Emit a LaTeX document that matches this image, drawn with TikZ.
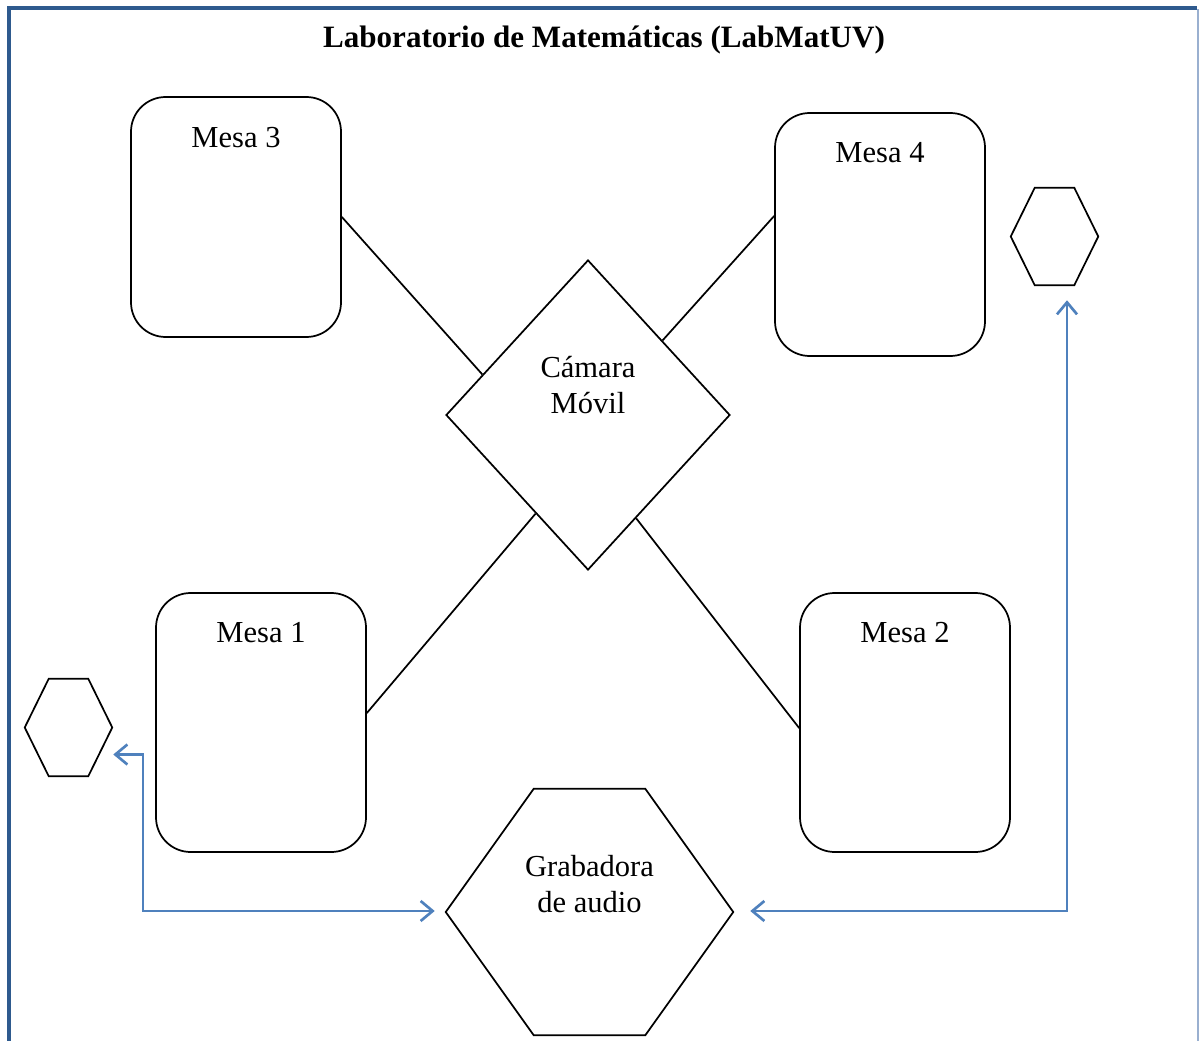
\documentclass[tikz,border=0pt]{standalone}
\usepackage{fontspec}
\setmainfont{Liberation Serif}
\usetikzlibrary{arrows.meta,shapes.geometric}
\definecolor{framecol}{HTML}{2E5A8E}
\definecolor{framelight}{HTML}{9AB0D0}
\definecolor{linkcol}{HTML}{4F81BD}
% outline of an elongated hexagon drawn on the border of a plain node
\newcommand{\hexoutline}[2]{%
  \draw[line width=1.3pt,line join=miter]
    (#1.west) -- ([xshift=#2]#1.north west) -- ([xshift=-#2]#1.north east)
    -- (#1.east) -- ([xshift=-#2]#1.south east) -- ([xshift=#2]#1.south west) -- cycle;}
\begin{document}
\begin{tikzpicture}[x=0.75pt,y=-0.75pt,
  txt/.style={font=\fontsize{22.9}{27}\selectfont,align=center,inner sep=0pt},
  mesa/.style={draw,line width=1.3pt,rounded corners=26pt,inner sep=0pt},
  hexbox/.style={inner sep=0pt,draw=none},
  link/.style={draw=black,line width=1.3pt},
  arrowlink/.style={draw=linkcol,line width=2pt,
    {Straight Barb[length=9pt,width=15pt]}-{Straight Barb[length=9pt,width=15pt]}}]
  \useasboundingbox (0,0) rectangle (1199,1041);
  \fill[white] (0,0) rectangle (1199,1041);

  % outer frame
  \draw[framecol,line width=3pt] (9,1045) -- (9,8) -- (1197,8);
  \draw[framelight,line width=1pt] (1198,9.5) -- (1198,1045);

  % title
  \node[txt,font=\fontsize{23.3}{27}\selectfont\bfseries] (title) at (604,40) {Laboratorio de Matemáticas (LabMatUV)};

  % tables
  \node[mesa,minimum width=157.5pt,minimum height=180pt] (m3) at (236,217) {};
  \node[mesa,minimum width=157.5pt,minimum height=182.25pt] (m4) at (880,234.5) {};
  \node[mesa,minimum width=157.5pt,minimum height=194.25pt] (m1) at (261,722.5) {};
  \node[mesa,minimum width=157.5pt,minimum height=194.25pt] (m2) at (905,722.5) {};
  \node[txt] (m3t) at (236,138) {Mesa 3};
  \node[txt] (m4t) at (880,153) {Mesa 4};
  \node[txt] (m1t) at (261,633) {Mesa 1};
  \node[txt] (m2t) at (905,633) {Mesa 2};

  % moving camera
  \node[draw,shape=diamond,line width=1.3pt,inner sep=0pt,
        minimum width=213pt,minimum height=232.5pt] (cam) at (588,415) {};
  \node[txt] (camt) at (588,385) {Cámara\\Móvil};

  % audio recorder and microphones
  \node[hexbox,minimum width=215.25pt,minimum height=184.5pt] (rec) at (589.5,912) {};
  \hexoutline{rec}{66pt}
  \node[txt] (rect) at (589.5,884) {Grabadora\\de audio};
  \node[hexbox,minimum width=65.25pt,minimum height=72.75pt] (micR) at (1054.5,236.5) {};
  \hexoutline{micR}{18pt}
  \node[hexbox,minimum width=65.25pt,minimum height=72.75pt] (micL) at (68.5,727.5) {};
  \hexoutline{micL}{18pt}

  % camera links to the tables
  \draw[link] (m3.east) -- (cam.159);
  \draw[link] ([shift={(0,-18.5)}]m4.west) -- (cam.45);
  \draw[link] ([shift={(0,-9.5)}]m1.east) -- (cam.242);
  \draw[link] ([shift={(0,5.5)}]m2.west) -- (cam.295);

  % audio wiring
  \coordinate (cornerL) at (143,911);
  \draw[arrowlink] ([shift={(1,27)}]micL.east) -| (cornerL) -- ([shift={(-11,-1)}]rec.west);
  \draw[arrowlink] ([shift={(17,-1)}]rec.east) -| ([shift={(12.5,15)}]micR.south);
\end{tikzpicture}
\end{document}
